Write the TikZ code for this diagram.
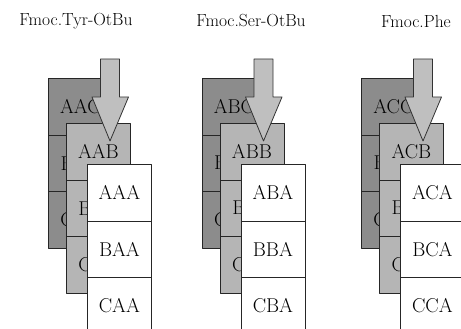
\documentclass[tikz,border=0pt]{standalone}
\begin{document}
\begin{tikzpicture}[x=1pt,y=-1pt,line join=round,font=\fontsize{20}{24}\selectfont,
	cell/.style={draw=black!85,line width=0.8pt,minimum width=64pt,minimum height=56.5pt,inner sep=0pt,anchor=north west},
	back/.style={cell,fill=black!45},
	mid/.style={cell,fill=black!29},
	front/.style={cell,fill=white},
	arr/.style={draw=black!80,line width=0.8pt,fill=black!25},
	title/.style={font=\fontsize{17.5}{20}\selectfont}]
	\clip (0,0) rectangle (461,329);
	\useasboundingbox (0,0) rectangle (461,329);
	\def\h{56.5} % chieu cao o
	\foreach \dx/\grp/\tx/\name [count=\i] in {0/A/76/Fmoc.Tyr-OtBu,153.5/B/251/Fmoc.Ser-OtBu,313/C/416/Fmoc.Phe}{
		\node[title] (t\i) at (\tx,21) {\name};
		\begin{scope}[shift={(\dx,0)}]
			% lop sau
			\foreach \row [count=\j] in {A,B,C}
				\node[back] (b\i\j) at (48,{78+(\j-1)*\h}) {\row\grp C};
			% lop giua
			\foreach \row [count=\j] in {A,B,C}
				\node[mid] (m\i\j) at (66,{123+(\j-1)*\h}) {\row\grp B};
			% mui ten
			\draw[arr] (100.5,59)--(119.5,59)--(119.5,97)--(128.5,97)--(110,141)--(92,97)--(100.5,97)--cycle;
			% lop truoc
			\foreach \row [count=\j] in {A,B,C}
				\node[front] (f\i\j) at (87,{164+(\j-1)*\h}) {\row\grp A};
		\end{scope}
	}
\end{tikzpicture}
\end{document}
